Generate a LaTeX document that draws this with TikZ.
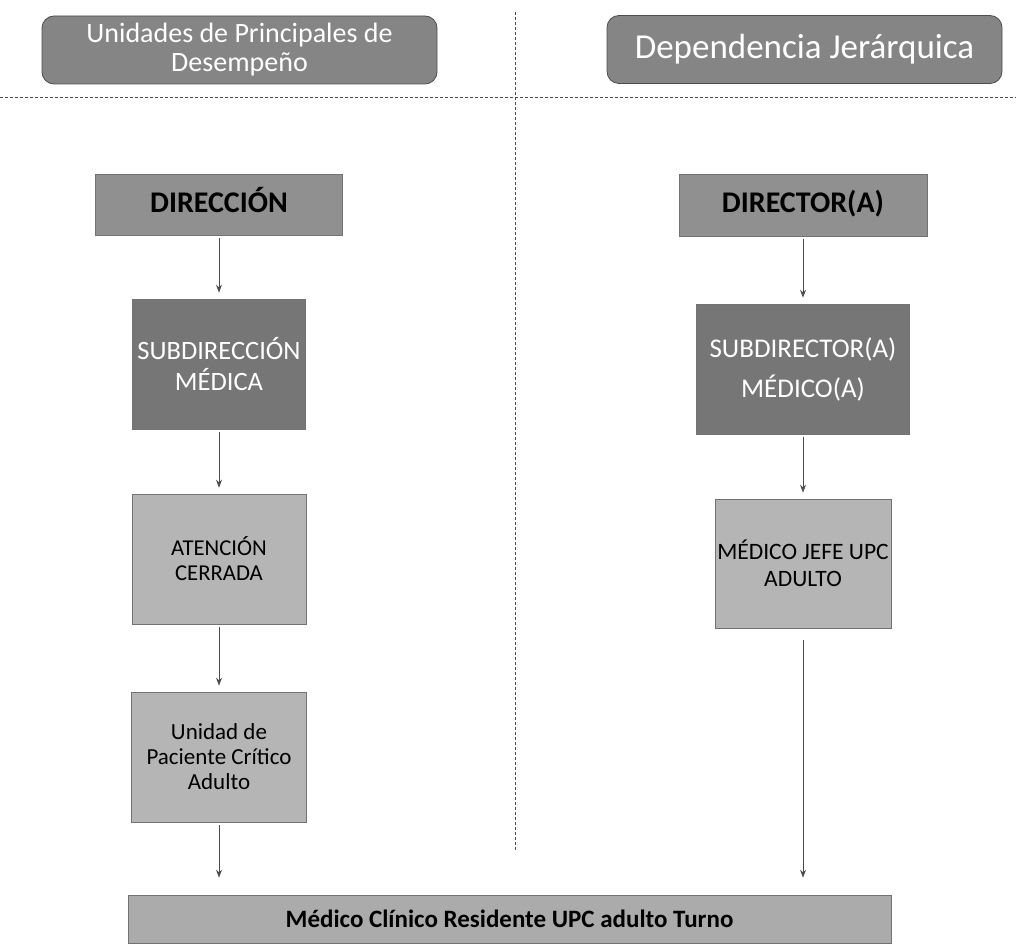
\documentclass[tikz,border=0pt]{standalone}
\usepackage{fontspec}
\setmainfont{Carlito}
\usetikzlibrary{arrows.meta, positioning, calc}
\definecolor{chead}{HTML}{858585}
\definecolor{cmid}{HTML}{909090}
\definecolor{cdark}{HTML}{767676}
\definecolor{clight}{HTML}{B5B5B5}
\definecolor{cbase}{HTML}{ABABAB}
\definecolor{cline}{HTML}{4D4D4D}
\tikzset{
  every picture/.style={line width=0.8pt},
  header/.style={draw=cline, fill=chead, rounded corners=12pt, text=white, align=center, minimum width=395pt, minimum height=68pt, inner sep=2pt},
  unitbox/.style={draw=black!55, fill=#1, align=center, inner sep=2pt, line width=0.6pt},
  unitbox/.default=clight,
  arrow/.style={-{Stealth[length=8pt, width=6pt]}, draw=cline, line width=0.9pt, shorten <=3pt, shorten >=6pt},
  divider/.style={draw=cline, densely dashed, line width=0.7pt},
}

\begin{document}
\begin{tikzpicture}[x=1pt, y=-1pt]
  \useasboundingbox (0,0) rectangle (1016,944);
  % headers and rules
  \node[header, font=\fontsize{28}{29}\selectfont] (hdrU) at (239.5,50) {Unidades de Principales de\\Desempeño};
  \node[header, font=\fontsize{35}{38}\selectfont] (hdrD) at (804.5,49.5) {Dependencia Jerárquica};
  \draw[divider] (515,12) -- (515,851);
  \draw[divider] (0,97) -- (1016,97);
  % left column
  \node[unitbox=cmid, minimum width=247pt, minimum height=61pt, text height=21pt, text depth=6pt, font=\bfseries\fontsize{30}{32}\selectfont] (dir) at (219,204.5) {DIRECCIÓN};
  \node[unitbox=cdark, text=white, minimum width=173pt, minimum height=130pt, font=\fontsize{26.5}{31}\selectfont] (subdir) at (219,364) {SUBDIRECCIÓN\\MÉDICA};
  \node[unitbox, minimum width=174pt, minimum height=130pt, font=\fontsize{22.7}{25}\selectfont] (aten) at (219,559) {ATENCIÓN\\CERRADA};
  \node[unitbox, minimum width=175pt, minimum height=130pt, font=\fontsize{23}{25}\selectfont] (upc) at (219,757) {Unidad de\\Paciente Crítico\\Adulto};
  % right column
  \node[unitbox=cmid, minimum width=248pt, minimum height=62pt, text height=21pt, text depth=6pt, font=\bfseries\fontsize{30}{32}\selectfont] (director) at (803,205) {DIRECTOR(A)};
  \node[unitbox=cdark, text=white, minimum width=213pt, minimum height=130pt, font=\fontsize{27}{40}\selectfont] (subdirector) at (803,369) {SUBDIRECTOR(A)\\MÉDICO(A)};
  \node[unitbox, minimum width=176pt, minimum height=129pt, font=\fontsize{23.5}{27}\selectfont] (jefe) at (803,563.5) {MÉDICO JEFE UPC\\ADULTO};
  % common base
  \node[unitbox=cbase, minimum width=763pt, minimum height=48pt, font=\bfseries\fontsize{25}{27}\selectfont] (turno) at (509.5,919) {Médico Clínico Residente UPC adulto Turno};
  % arrows
  \draw[arrow] (dir) -- (subdir);
  \draw[arrow] (subdir) -- (aten);
  \draw[arrow] (aten) -- (upc);
  \draw[arrow, shorten >=17pt] (upc.south) -- (upc.south |- turno.north);
  \draw[arrow] (director) -- (subdirector);
  \draw[arrow] (subdirector) -- (jefe);
  \draw[arrow, shorten <=12pt, shorten >=17pt] (jefe.south) -- (jefe.south |- turno.north);
\end{tikzpicture}
\end{document}
